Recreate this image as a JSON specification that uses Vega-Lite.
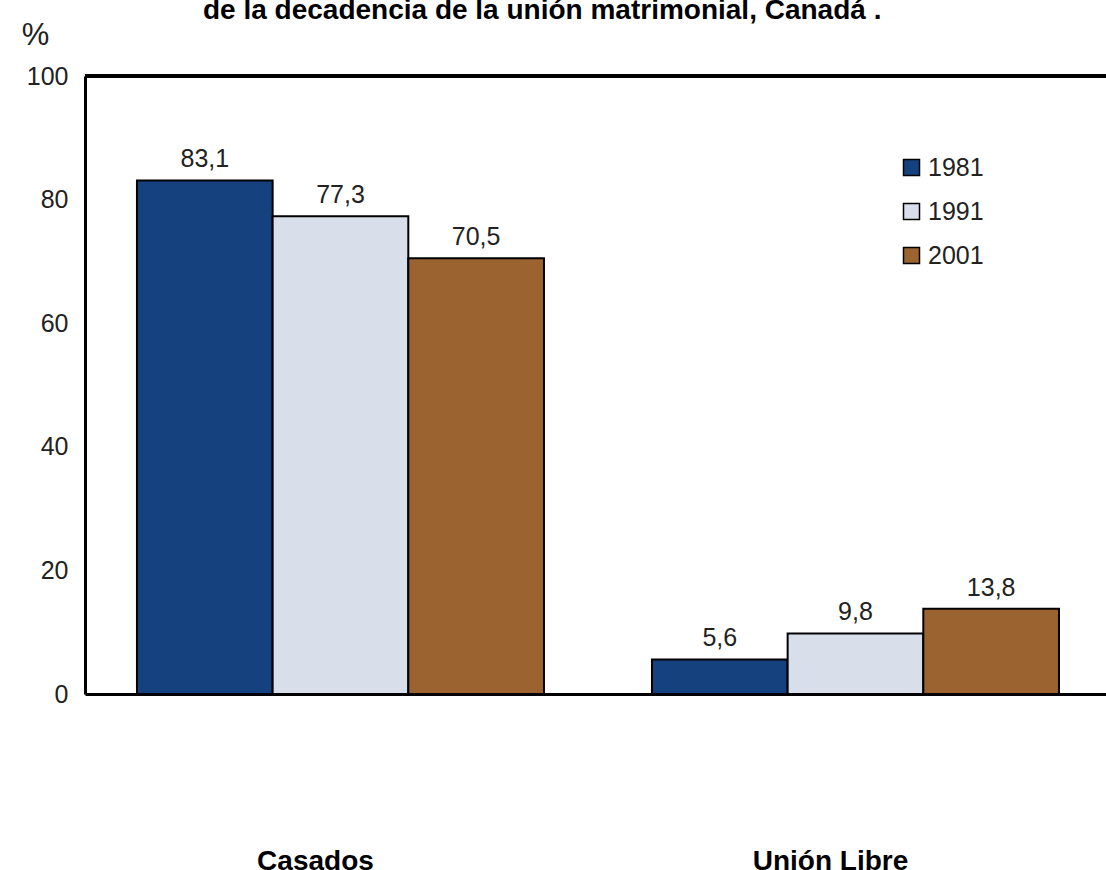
{
  "$schema": "https://vega.github.io/schema/vega-lite/v6.json",
  "autosize": {"type": "none"},
  "padding": {"left": 85, "top": 76, "right": 0, "bottom": 176},
  "width": 1021,
  "height": 618,
  "background": "white",
  "config": {
    "font": "Liberation Sans",
    "locale": {"number": {"decimal": ",", "thousands": ".", "grouping": [3], "currency": ["", " €"]}},
    "view": {"stroke": null}
  },
  "title": {
    "text": "de la decadencia de la unión matrimonial, Canadá    .",
    "anchor": "start",
    "frame": "group",
    "dx": 118,
    "fontSize": 28,
    "fontWeight": "bold",
    "color": "black",
    "baseline": "alphabetic",
    "offset": -28
  },
  "data": {
    "values": [
      {"grupo": "Casados", "anio": "1981", "pct": 83.1},
      {"grupo": "Casados", "anio": "1991", "pct": 77.3},
      {"grupo": "Casados", "anio": "2001", "pct": 70.5},
      {"grupo": "Unión Libre", "anio": "1981", "pct": 5.6},
      {"grupo": "Unión Libre", "anio": "1991", "pct": 9.8},
      {"grupo": "Unión Libre", "anio": "2001", "pct": 13.8}
    ]
  },
  "encoding": {
    "x": {
      "field": "grupo", "type": "nominal", "sort": ["Casados", "Unión Libre"],
      "scale": {"paddingInner": 0.2097, "paddingOuter": 0.0961, "align": 0.525},
      "axis": {"title": null, "domain": true, "domainColor": "black", "domainWidth": 3,
        "ticks": false, "labelAngle": 0,
        "labelFontSize": 28, "labelFontWeight": "bold", "labelColor": "black",
        "labelPadding": 153, "labelOffset": -25}
    },
    "xOffset": {"field": "anio", "type": "nominal", "scale": {"paddingInner": 0, "paddingOuter": 0}},
    "y": {
      "field": "pct", "type": "quantitative",
      "scale": {"domain": [0, 100], "nice": false},
      "axis": {"values": [0, 20, 40, 60, 80, 100], "grid": false, "ticks": false,
        "domainColor": "black", "domainWidth": 3,
        "labelFontSize": 25, "labelColor": "#222", "labelPadding": 17,
        "title": "%", "titleAngle": 0, "titleX": -50, "titleY": -41,
        "titleAlign": "center", "titleBaseline": "middle",
        "titleFontSize": 31, "titleFontWeight": "normal", "titleColor": "#222"}
    }
  },
  "layer": [
    {
      "mark": {"type": "rule", "color": "black", "strokeWidth": 3},
      "encoding": {"y": {"datum": 100}, "x": null, "xOffset": null}
    },
    {
      "mark": {"type": "bar", "stroke": "black", "strokeWidth": 2},
      "encoding": {
        "color": {
          "field": "anio", "type": "nominal",
          "scale": {"domain": ["1981", "1991", "2001"], "range": ["#16417F", "#D8DEEA", "#9A6330"]},
          "legend": {"title": null, "orient": "none", "legendX": 814, "legendY": 79, "padding": 0,
            "symbolType": "square", "symbolSize": 256, "symbolStrokeColor": "black",
            "symbolStrokeWidth": 1.5, "labelFontSize": 25, "labelColor": "#222",
            "rowPadding": 18, "labelOffset": 4}
        }
      }
    },
    {
      "mark": {"type": "text", "dy": -13, "baseline": "alphabetic", "fontSize": 25, "color": "#222"},
      "encoding": {"text": {"field": "pct", "type": "quantitative", "format": ".1f"}}
    }
  ]
}
